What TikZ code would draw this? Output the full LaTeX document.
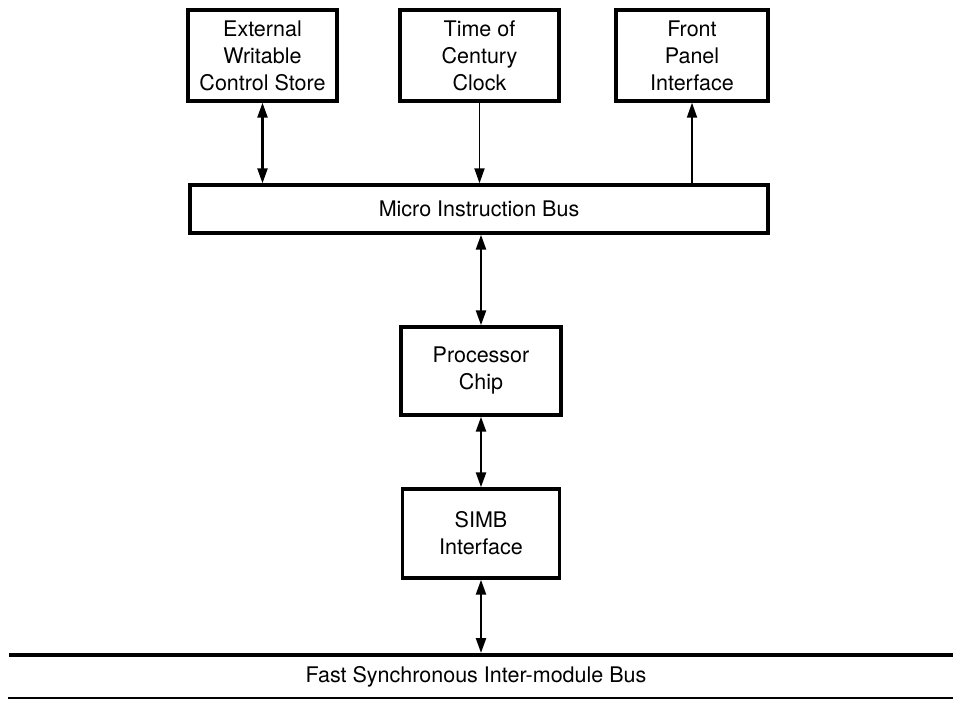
\documentclass[tikz,border=0pt]{standalone}
\usepackage{fontspec}
\setmainfont{TeX Gyre Heros}
\usetikzlibrary{arrows.meta}
\begin{document}
\begin{tikzpicture}[x=1pt,y=-1pt,
  every node/.style={font=\fontsize{21.5}{27}\selectfont},
  unit/.style={draw, line width=3.4pt, align=center, inner sep=0pt},
  link/.style={line width=1.9pt, -{Triangle[length=15pt,width=10pt]}},
  dlink/.style={line width=2.4pt, {Triangle[length=15pt,width=10pt]}-{Triangle[length=15pt,width=10pt]}},
  busline/.style={line width=3.6pt},
  thinline/.style={line width=1.8pt}]
\useasboundingbox (0,0) rectangle (957,701);

% top row of units
\node[unit, minimum width=149pt, minimum height=91pt] (ext) at (262.5,55.5)
  {External\\Writable\\Control Store};
\node[unit, minimum width=159pt, minimum height=91pt] (toc) at (479.5,55.5)
  {Time of\\Century\\Clock};
\node[unit, minimum width=152pt, minimum height=91pt] (fpi) at (692,55.5)
  {Front\\Panel\\Interface};

% micro instruction bus
\node[unit, minimum width=578pt, minimum height=48pt] (mib) at (479,209)
  {Micro Instruction Bus};

% processor and bus interface
\node[unit, minimum width=160pt, minimum height=88pt] (proc) at (481,371)
  {Processor\\Chip};
\node[unit, minimum width=157pt, minimum height=89pt] (simb) at (481,533.5)
  {SIMB\\Interface};

% system bus
\coordinate (busL) at (9,655);
\coordinate (busR) at (953,655);
\coordinate (lowL) at (8,698);
\coordinate (lowR) at (953,698);
\draw[busline] (busL) -- (busR);
\draw[thinline] (lowL) -- (lowR);
\node (fsib) at (476,677) {Fast Synchronous Inter-module Bus};
\coordinate (tap) at (481,653);

% connectors
\draw[dlink] (ext.south) -- (ext.south |- mib.north);
\draw[link] (toc.south) -- (toc.south |- mib.north);
\draw[link] (fpi.south |- mib.north) -- (fpi.south);
\draw[dlink] (mib.south -| proc.north) -- (proc.north);
\draw[dlink] (proc.south) -- (simb.north);
\draw[dlink] (simb.south) -- (tap);
\end{tikzpicture}
\end{document}
